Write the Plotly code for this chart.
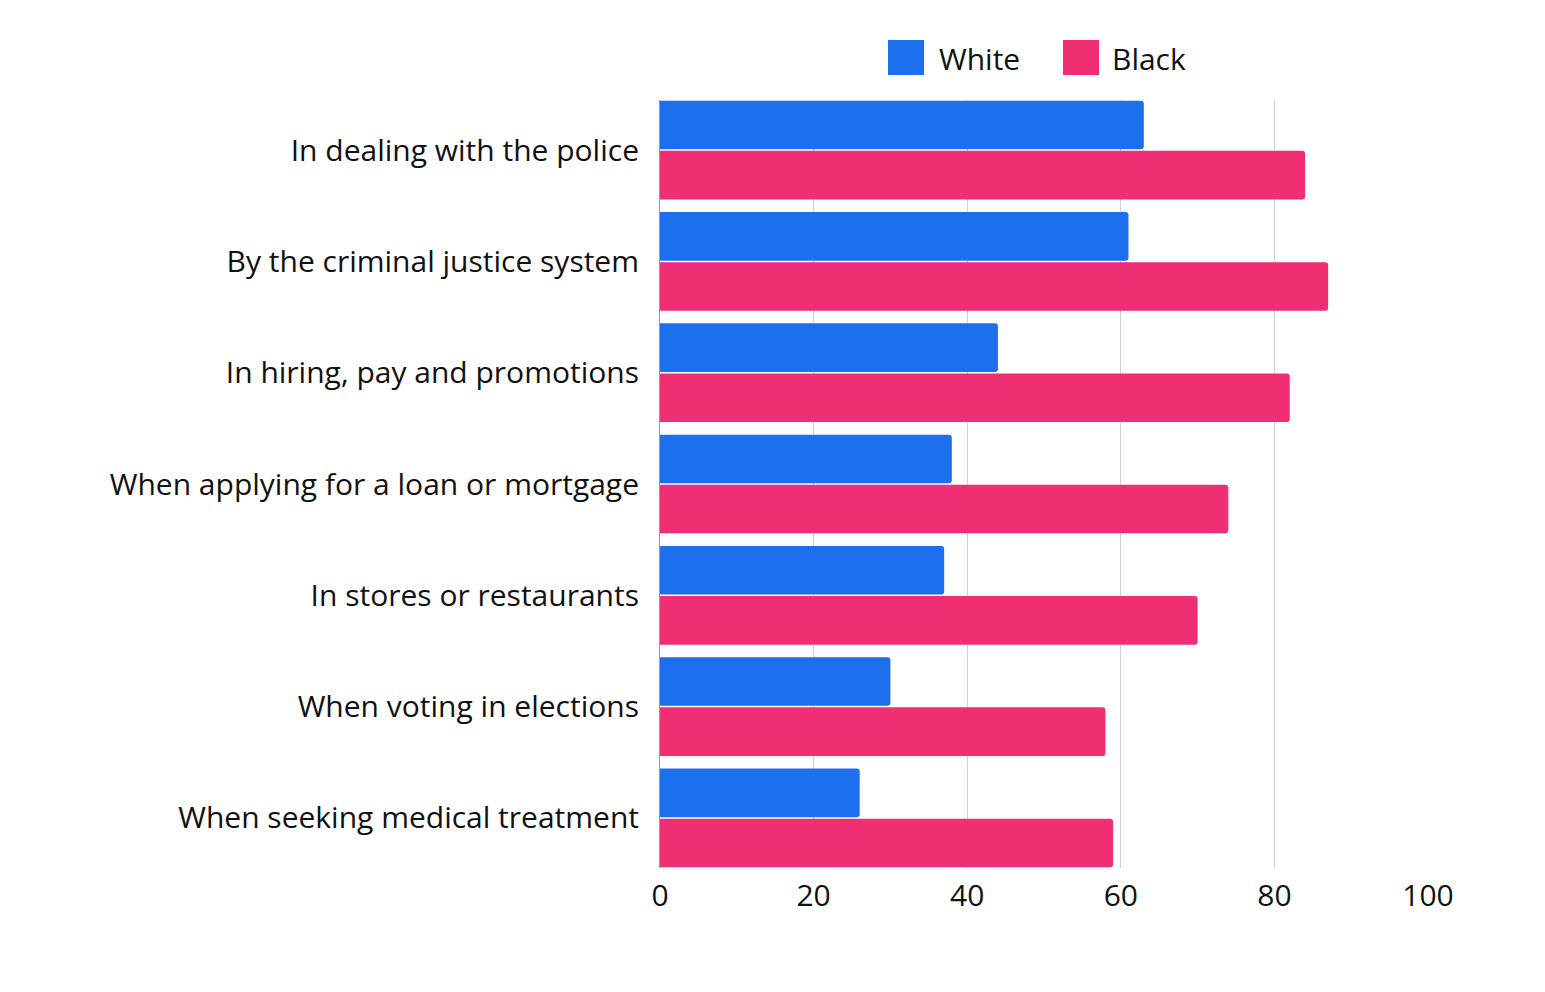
import plotly.graph_objects as go

categories = [
    "In dealing with the police",
    "By the criminal justice system",
    "In hiring, pay and promotions",
    "When applying for a loan or mortgage",
    "In stores or restaurants",
    "When voting in elections",
    "When seeking medical treatment",
]
white_values = [63, 61, 44, 38, 37, 30, 26]
black_values = [84, 87, 82, 74, 70, 58, 59]
tick_values = [0, 20, 40, 60, 80, 100]

WHITE_COLOR = "#1C70EE"
BLACK_COLOR = "#F02E74"
FONT = "Open Sans"
FS = 30

fig = go.Figure()
fig.add_trace(go.Bar(y=categories, x=white_values, orientation="h", name="White",
                     marker=dict(color=WHITE_COLOR, line=dict(width=0)), showlegend=False))
fig.add_trace(go.Bar(y=categories, x=black_values, orientation="h", name="Black",
                     marker=dict(color=BLACK_COLOR, line=dict(width=0)), showlegend=False))

# page offset of the plot div inside the browser body
OFF = 8
W, H = 1529, 976
ml, mt = 652, 92
plot_right, plot_bottom = 1420, 860
mr, mb = W - plot_right, H - plot_bottom
pw, ph = plot_right - ml, plot_bottom - mt

def sx_to_paper(px):
    return (px - OFF - ml) / pw

def sy_to_paper(py):
    return (plot_bottom - (py - OFF)) / ph

legend_items = [("White", WHITE_COLOR, 888, 939), ("Black", BLACK_COLOR, 1063, 1112)]
for name, color, sx, tx in legend_items:
    fig.add_shape(type="rect", xref="paper", yref="paper",
                  x0=sx_to_paper(sx), x1=sx_to_paper(sx + 36),
                  y0=sy_to_paper(75), y1=sy_to_paper(40),
                  fillcolor=color, line=dict(width=0))
    fig.add_annotation(xref="paper", yref="paper", x=sx_to_paper(tx), y=sy_to_paper(58),
                       text=name, showarrow=False, xanchor="left", yanchor="middle",
                       xshift=-2, font=dict(family=FONT, size=FS, color="#111111"))

fig.update_layout(
    width=W, height=H,
    margin=dict(l=ml, r=mr, t=mt, b=mb, pad=0),
    paper_bgcolor="white", plot_bgcolor="white",
    barmode="group", bargap=0.1, bargroupgap=0.03, barcornerradius=3,
    font=dict(family=FONT, size=FS, color="#111111"),
    xaxis=dict(range=[0, 100], tickvals=tick_values, showgrid=True, gridcolor="#d2d2d2",
               gridwidth=1, zeroline=False, showline=False, ticks="",
               tickfont=dict(family=FONT, size=FS, color="#111111"), ticklabelstandoff=7),
    yaxis=dict(range=[6.45, -0.45], showgrid=False, zeroline=False,
               showline=True, linecolor="#9a9a9a", linewidth=1, ticks="",
               tickfont=dict(family=FONT, size=FS, color="#111111"), ticklabelstandoff=14),
)

fig.write_html("out.html")
